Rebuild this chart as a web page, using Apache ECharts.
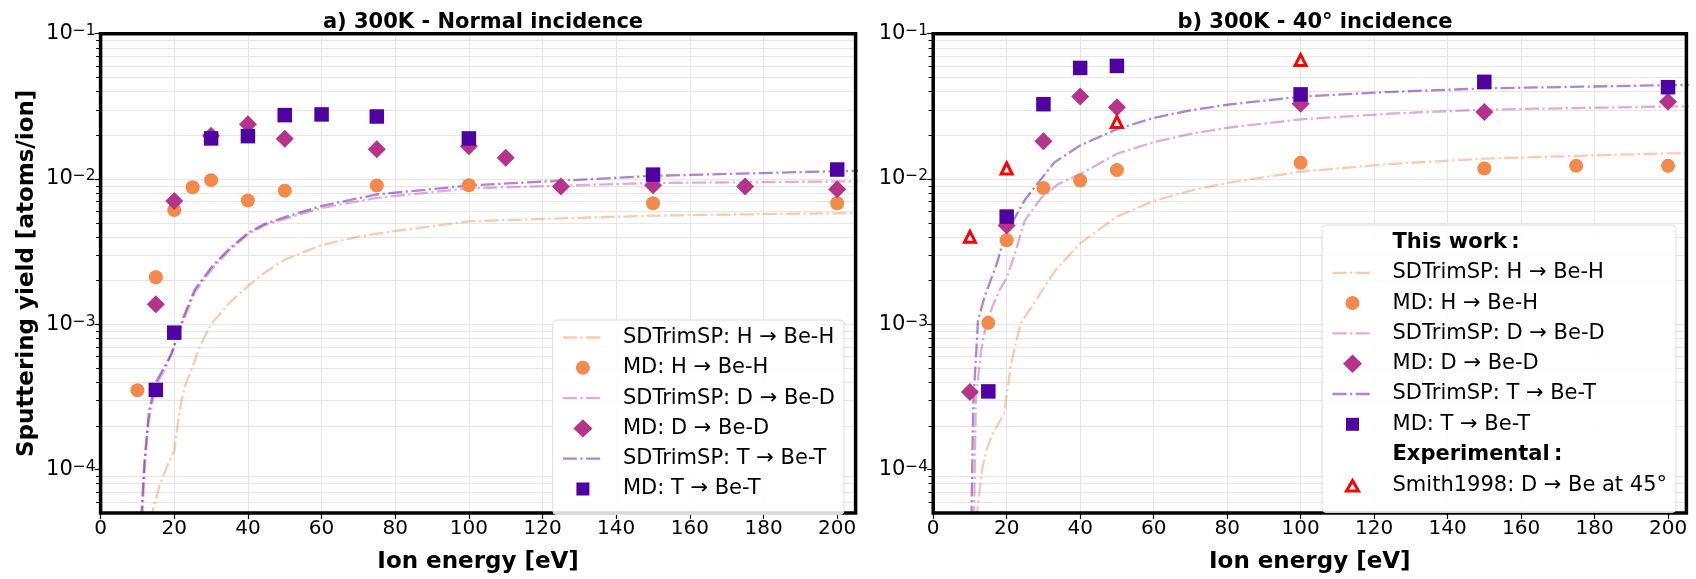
<!DOCTYPE html>
<html><head><meta charset="utf-8">
<script src="https://cdn.jsdelivr.net/npm/echarts@6/dist/echarts.min.js"></script>
<style>html,body{margin:0;padding:0;background:#fff}#c{width:1696px;height:579px}</style>
</head><body><div id="c"></div>
<script>
// ---------- tick labels ----------
const xTicks = [0, 20, 40, 60, 80, 100, 120, 140, 160, 180, 200];
const yDecades = [1e-4, 1e-3, 1e-2, 1e-1];
const yMinor = [6e-5, 7e-5, 8e-5, 9e-5,
  2e-4, 3e-4, 4e-4, 5e-4, 6e-4, 7e-4, 8e-4, 9e-4,
  2e-3, 3e-3, 4e-3, 5e-3, 6e-3, 7e-3, 8e-3, 9e-3,
  2e-2, 3e-2, 4e-2, 5e-2, 6e-2, 7e-2, 8e-2, 9e-2];

// ---------- series names ----------
const nSdH = 'SDTrimSP: H → Be-H', nMdH = 'MD: H → Be-H';
const nSdD = 'SDTrimSP: D → Be-D', nMdD = 'MD: D → Be-D';
const nSdT = 'SDTrimSP: T → Be-T', nMdT = 'MD: T → Be-T';
const nSmith = 'Smith1998: D → Be at 45°';
const nHead1 = 'This work\u2009:', nHead2 = 'Experimental\u2009:';

// ---------- a) 300K normal incidence ----------
const mdH_normal = [[10,3.5e-4],[15,2.1e-3],[20,6.1e-3],[25,8.75e-3],[30,9.8e-3],[40,7.1e-3],[50,8.3e-3],[75,9.0e-3],[100,9.05e-3],[150,6.8e-3],[200,6.8e-3]];
const mdD_normal = [[15,1.37e-3],[20,7.05e-3],[30,1.98e-2],[40,2.38e-2],[50,1.89e-2],[75,1.60e-2],[100,1.68e-2],[110,1.40e-2],[125,8.85e-3],[150,9.03e-3],[175,8.85e-3],[200,8.5e-3]];
const mdT_normal = [[15,3.52e-4],[20,8.73e-4],[30,1.90e-2],[40,1.97e-2],[50,2.75e-2],[60,2.78e-2],[75,2.69e-2],[100,1.90e-2],[150,1.07e-2],[200,1.16e-2]];
const sdH_normal = [[13.6,4.4e-5],[14,5.0e-5],[16,7.7e-5],[18,1.04e-4],[20,1.34e-4],[21,2.1e-4],[22,3.0e-4],[23,3.8e-4],[25,5.1e-4],[27,7.1e-4],[30,1.0e-3],[35,1.4e-3],[40,1.83e-3],[45,2.3e-3],[50,2.78e-3],[60,3.5e-3],[70,4.0e-3],[80,4.38e-3],[100,5.1e-3],[120,5.3e-3],[150,5.58e-3],[175,5.7e-3],[200,5.8e-3],[210,5.85e-3]];
const sdD_normal = [[11.3,4.5e-5],[12,1.05e-4],[13,2.1e-4],[15,3.75e-4],[18,5.2e-4],[20,7.0e-4],[22.5,1.06e-3],[25.6,1.66e-3],[30,2.35e-3],[34.6,3.15e-3],[40,4.15e-3],[44.6,4.8e-3],[50,5.3e-3],[60,6.3e-3],[75,7.4e-3],[100,8.6e-3],[150,9.37e-3],[200,9.6e-3],[210,9.65e-3]];
const sdT_normal = [[11,4.5e-5],[11.9,1.14e-4],[13.2,2.6e-4],[15,3.97e-4],[17.9,5.4e-4],[19.3,6.3e-4],[20.2,7.4e-4],[22.5,1.12e-3],[25.6,1.73e-3],[30,2.45e-3],[34.6,3.24e-3],[40,4.25e-3],[44.6,4.9e-3],[50,5.45e-3],[60,6.52e-3],[75,7.81e-3],[100,9.0e-3],[150,1.05e-2],[200,1.13e-2],[210,1.14e-2]];

// ---------- b) 300K 40 deg incidence ----------
const mdH_40 = [[15,1.02e-3],[20,3.78e-3],[30,8.67e-3],[40,9.75e-3],[50,1.15e-2],[100,1.29e-2],[150,1.18e-2],[175,1.23e-2],[200,1.23e-2]];
const mdD_40 = [[10,3.4e-4],[20,4.78e-3],[30,1.82e-2],[40,3.69e-2],[50,3.11e-2],[100,3.29e-2],[150,2.89e-2],[200,3.40e-2]];
const mdT_40 = [[15,3.44e-4],[20,5.5e-3],[30,3.27e-2],[40,5.81e-2],[50,6.0e-2],[100,3.82e-2],[150,4.66e-2],[200,4.28e-2]];
const smith1998 = [[10,3.99e-3],[20,1.18e-2],[50,2.47e-2],[100,6.58e-2]];
const sdH_40 = [[11.7,4.5e-5],[13.4,1.03e-4],[14.7,1.41e-4],[16.1,1.74e-4],[19.3,2.43e-4],[21.1,5.15e-4],[22.5,7.4e-4],[23.8,1.01e-3],[28.4,1.52e-3],[33.1,2.32e-3],[40,3.6e-3],[50,5.5e-3],[60,7.05e-3],[70,8.3e-3],[80,9.38e-3],[100,1.12e-2],[125,1.27e-2],[150,1.38e-2],[200,1.5e-2],[210,1.52e-2]];
const sdD_40 = [[11.1,4.5e-5],[11.6,3.0e-4],[13,6.5e-4],[14.1,9.1e-4],[16,1.3e-3],[18,1.7e-3],[20,2.08e-3],[22.3,3.1e-3],[24.9,5.16e-3],[29.4,7.4e-3],[34,9.2e-3],[40,1.08e-2],[50,1.49e-2],[60,1.79e-2],[70,2.04e-2],[80,2.25e-2],[100,2.57e-2],[125,2.82e-2],[150,3.0e-2],[200,3.15e-2],[210,3.17e-2]];
const sdT_40 = [[10.4,4.5e-5],[10.65,1.14e-4],[10.9,2.8e-4],[12.2,1.06e-3],[14,1.55e-3],[17.2,2.56e-3],[19.5,4.0e-3],[21.8,5.16e-3],[25,7.2e-3],[28.1,9.1e-3],[33,1.3e-2],[40,1.7e-2],[50,2.2e-2],[60,2.63e-2],[70,2.97e-2],[80,3.24e-2],[100,3.69e-2],[125,3.98e-2],[150,4.2e-2],[200,4.42e-2],[210,4.45e-2]];

// ---------- styles ----------
const FONT = 'DejaVu Sans';
const cMdH = '#f3894b', cMdD = '#b5338b', cMdT = '#4f02a2';
const cSdH = 'rgba(245,140,75,0.45)', cSdD = 'rgba(185,60,150,0.42)', cSdT = 'rgba(95,20,180,0.52)';
const DASH = [14, 3.5, 2.2, 3.5];
const GRIDC = '#e6e6e6';
// legend icon shapes inside a 40x20 box (the two leading moves fix the box)
const BOX = 'path://M0,0 M40,20 ';
const iconCircle = BOX + 'M13,10 A7,7 0 1,1 27,10 A7,7 0 1,1 13,10 Z';
const iconDiamond = BOX + 'M20,0.8 L29.5,10 L20,19.2 L10.5,10 Z';
const iconSquare = BOX + 'M13.5,3.5 L26.5,3.5 L26.5,16.5 L13.5,16.5 Z';
const iconTri = BOX + 'M20,4.5 L26,15 L14,15 Z';

const chart = echarts.init(document.getElementById('c'), null, {renderer: 'canvas'});

function xAxisCfg(gi) {
  return {
    type: 'value', gridIndex: gi, min: 0, max: 205, interval: 20,
    axisLine: {show: false},
    axisTick: {show: true, length: 6, customValues: xTicks, lineStyle: {color: '#000', width: 1.2}},
    axisLabel: {fontSize: 20, fontFamily: FONT, color: '#000', margin: 6, customValues: xTicks,
      formatter: v => (xTicks.indexOf(v) >= 0 ? String(v) : '')},
    splitLine: {show: true, showMinLine: false, showMaxLine: false, lineStyle: {color: GRIDC, width: 1}},
    name: 'Ion energy [eV]', nameLocation: 'middle', nameGap: 38,
    nameTextStyle: {fontSize: 23, fontWeight: 'bold', fontFamily: FONT, color: '#000'}
  };
}
function yAxisCfg(gi, withName) {
  const c = {
    type: 'log', logBase: 10, gridIndex: gi, min: 5e-5, max: 0.1,
    axisLine: {show: false},
    axisTick: {show: true, length: 6, customValues: yDecades, lineStyle: {color: '#000', width: 1.2}},
    axisLabel: {
      margin: 5, customValues: yDecades,
      formatter: v => {
        const l = Math.log10(v), e = Math.round(l);
        if (Math.abs(l - e) > 1e-6) return '';
        return '{b|10}{s|\u2212' + Math.abs(e) + '}';
      },
      rich: {
        b: {fontSize: 21, fontFamily: FONT, color: '#000', lineHeight: 21, verticalAlign: 'bottom'},
        s: {fontSize: 15.5, fontFamily: FONT, color: '#000', lineHeight: 15, verticalAlign: 'top', padding: [0, 0, 10, 0]}
      }
    },
    splitLine: {show: true, showMinLine: false, showMaxLine: false, lineStyle: {color: GRIDC, width: 1}}
  };
  if (withName) {
    c.name = 'Sputtering yield [atoms/ion]';
    c.nameLocation = 'middle';
    c.nameGap = 62;
    c.nameTextStyle = {fontSize: 23, fontWeight: 'bold', fontFamily: FONT, color: '#000'};
  }
  return c;
}
function minorSeries(gi) {
  return {
    type: 'custom', xAxisIndex: gi, yAxisIndex: gi, silent: true, z: 1, clip: false,
    data: yMinor.map(v => [0, v]), encode: {x: 0, y: 1},
    renderItem: (params, api) => {
      const cs = params.coordSys;
      const y = Math.round(api.coord([0, api.value(1)])[1]) + 0.5;
      return {type: 'group', children: [
        {type: 'line', shape: {x1: cs.x + 2, y1: y, x2: cs.x + cs.width - 2, y2: y}, style: {stroke: GRIDC, lineWidth: 1}},
        {type: 'line', shape: {x1: cs.x - 4.5, y1: y, x2: cs.x, y2: y}, style: {stroke: '#000', lineWidth: 1}}
      ]};
    }
  };
}
function sdSeries(gi, name, data, color) {
  return {type: 'line', name, xAxisIndex: gi, yAxisIndex: gi, data, symbol: 'none', showSymbol: false,
    clip: true, z: 3, lineStyle: {color, width: 2.3, type: DASH}, itemStyle: {color}};
}
function mdSeries(gi, name, data, color, symbol, size) {
  return {type: 'scatter', name, xAxisIndex: gi, yAxisIndex: gi, data, symbol, symbolSize: size,
    z: 4, itemStyle: {color, opacity: 1}};
}
function lineItem(name, color) {
  return {name, itemStyle: {opacity: 0}, lineStyle: {color, width: 2.3, type: DASH}};
}
const legendBase = {
  orient: 'vertical', itemWidth: 40, itemHeight: 20, itemGap: 9.3, align: 'left',
  padding: [7, 9, 15, 9], backgroundColor: 'rgba(255,255,255,0.85)', borderColor: '#dcdcdc',
  borderWidth: 1, borderRadius: 4, selectedMode: false, z: 20,
  textStyle: {fontFamily: FONT, fontSize: 21, color: '#000', lineHeight: 20, padding: [0, 0, 0, 15]}
};
const mdItems = [
  {name: nMdH, icon: iconCircle},
  {name: nMdD, icon: iconDiamond},
  {name: nMdT, icon: iconSquare}
];

const option = {
  animation: false,
  backgroundColor: '#fff',
  title: [
    {text: 'a) 300K - Normal incidence', left: 478, top: 7, textAlign: 'center',
      textStyle: {fontSize: 21, fontWeight: 'bold', fontFamily: FONT, color: '#000'}},
    {text: 'b) 300K - 40° incidence', left: 1310, top: 7, textAlign: 'center',
      textStyle: {fontSize: 21, fontWeight: 'bold', fontFamily: FONT, color: '#000'}}
  ],
  grid: [
    {left: 100.6, top: 33.7, width: 755, height: 490, show: true, borderColor: '#000', borderWidth: 3.5, backgroundColor: 'transparent', z: 10},
    {left: 933.2, top: 33.7, width: 753.2, height: 490, show: true, borderColor: '#000', borderWidth: 3.5, backgroundColor: 'transparent', z: 10}
  ],
  xAxis: [xAxisCfg(0), xAxisCfg(1)],
  yAxis: [yAxisCfg(0, true), yAxisCfg(1, false)],
  legend: [
    Object.assign({}, legendBase, {
      right: 852, top: 320,
      data: [lineItem(nSdH, cSdH), mdItems[0], lineItem(nSdD, cSdD), mdItems[1], lineItem(nSdT, cSdT), mdItems[2]]
    }),
    Object.assign({}, legendBase, {
      right: 20, top: 225,
      data: [
        {name: nHead1, icon: 'none', textStyle: {fontWeight: 'bold'}},
        lineItem(nSdH, cSdH), mdItems[0], lineItem(nSdD, cSdD), mdItems[1], lineItem(nSdT, cSdT), mdItems[2],
        {name: nHead2, icon: 'none', textStyle: {fontWeight: 'bold'}},
        {name: nSmith, icon: iconTri, itemStyle: {color: '#fff', borderColor: '#ff0000', borderWidth: 3}}
      ]
    })
  ],
  series: [
    minorSeries(0), minorSeries(1),
    sdSeries(0, nSdH, sdH_normal, cSdH),
    mdSeries(0, nMdH, mdH_normal, cMdH, 'circle', 14),
    sdSeries(0, nSdD, sdD_normal, cSdD),
    mdSeries(0, nMdD, mdD_normal, cMdD, 'diamond', 18),
    sdSeries(0, nSdT, sdT_normal, cSdT),
    mdSeries(0, nMdT, mdT_normal, cMdT, 'rect', 14.5),
    sdSeries(1, nSdH, sdH_40, cSdH),
    mdSeries(1, nMdH, mdH_40, cMdH, 'circle', 14),
    sdSeries(1, nSdD, sdD_40, cSdD),
    mdSeries(1, nMdD, mdD_40, cMdD, 'diamond', 18),
    sdSeries(1, nSdT, sdT_40, cSdT),
    mdSeries(1, nMdT, mdT_40, cMdT, 'rect', 14.5),
    {type: 'scatter', name: nSmith, xAxisIndex: 1, yAxisIndex: 1, data: smith1998, symbol: 'triangle',
      symbolSize: 11, z: 5, itemStyle: {color: '#fff', borderColor: '#ff0000', borderWidth: 3, opacity: 1}},
    {type: 'scatter', name: nHead1, xAxisIndex: 1, yAxisIndex: 1, data: []},
    {type: 'scatter', name: nHead2, xAxisIndex: 1, yAxisIndex: 1, data: []}
  ]
};
chart.setOption(option);
</script></body></html>
